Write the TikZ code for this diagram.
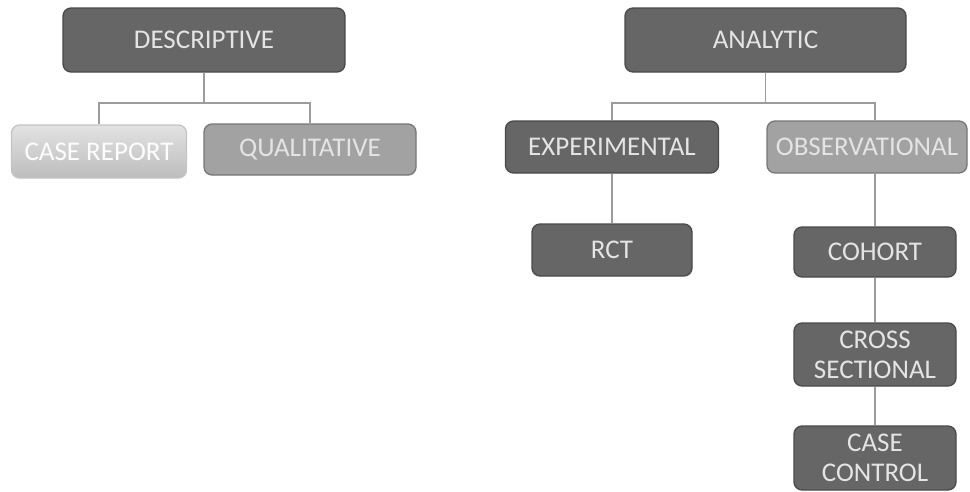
\documentclass[tikz,border=0pt]{standalone}
\usepackage{fontspec}
\setmainfont{Carlito}
\definecolor{darkfill}{HTML}{666666}
\definecolor{darkedge}{HTML}{4A4A4A}
\definecolor{midfill}{HTML}{A2A2A2}
\definecolor{midedge}{HTML}{767676}
\definecolor{lighttop}{HTML}{E2E2E2}
\definecolor{lightbot}{HTML}{BDBDBD}
\definecolor{lightedge}{HTML}{C4C4C4}
\definecolor{boxtext}{HTML}{E4E4E4}
\definecolor{linkcol}{HTML}{9C9C9C}
\begin{document}
\begin{tikzpicture}[x=1pt,y=-1pt,
  box/.style={rectangle, rounded corners=8pt, line width=1.3pt, inner sep=0pt,
    align=center, text=boxtext, font=\fontsize{27}{30}\selectfont},
  darkbox/.style={box, fill=darkfill, draw=darkedge},
  midbox/.style={box, fill=midfill, draw=midedge},
  lightbox/.style={box, top color=lighttop, bottom color=lightbot, draw=lightedge, text=white!92!lighttop},
  link/.style={draw=linkcol, line width=1.5pt}]
\useasboundingbox (0,0) rectangle (970,491);
% left tree
\node[darkbox, minimum width=282pt, minimum height=64pt] (desc) at (204,40) {DESCRIPTIVE};
\node[lightbox, minimum width=175pt, minimum height=53pt] (cr) at (99,151.5) {CASE REPORT};
\node[midbox, minimum width=212pt, minimum height=51pt] (qual) at (310,149.5) {QUALITATIVE};
\coordinate (dj) at (204,103);
\draw[link] (desc.south) -- (dj);
\draw[link] (dj) -| (cr.north);
\draw[link] (dj) -| (qual.north);
% right tree
\node[darkbox, minimum width=281pt, minimum height=64pt] (ana) at (765.5,40) {ANALYTIC};
\node[darkbox, minimum width=213pt, minimum height=52pt] (exp) at (612,147) {EXPERIMENTAL};
\node[midbox, minimum width=200pt, minimum height=52pt] (obs) at (867,147) {OBSERVATIONAL};
\node[darkbox, minimum width=160pt, minimum height=52pt] (rct) at (612,250) {RCT};
\node[darkbox, minimum width=162pt, minimum height=50pt] (coh) at (875,252) {COHORT};
\node[darkbox, minimum width=162pt, minimum height=63pt] (cs) at (875,354.5) {CROSS\\SECTIONAL};
\node[darkbox, minimum width=162pt, minimum height=64pt] (cc) at (875,458) {CASE\\CONTROL};
\coordinate (aj) at (765.5,103);
\draw[link] (ana.south) -- (aj);
\draw[link] (aj) -| (exp.north);
\draw[link] (aj) -| (coh.north |- obs.north);
\draw[link] (exp.south) -- (rct.north);
\draw[link] (obs.south -| coh.north) -- (coh.north);
\draw[link] (coh.south) -- (cs.north);
\draw[link] (cs.south) -- (cc.north);
\end{tikzpicture}
\end{document}
